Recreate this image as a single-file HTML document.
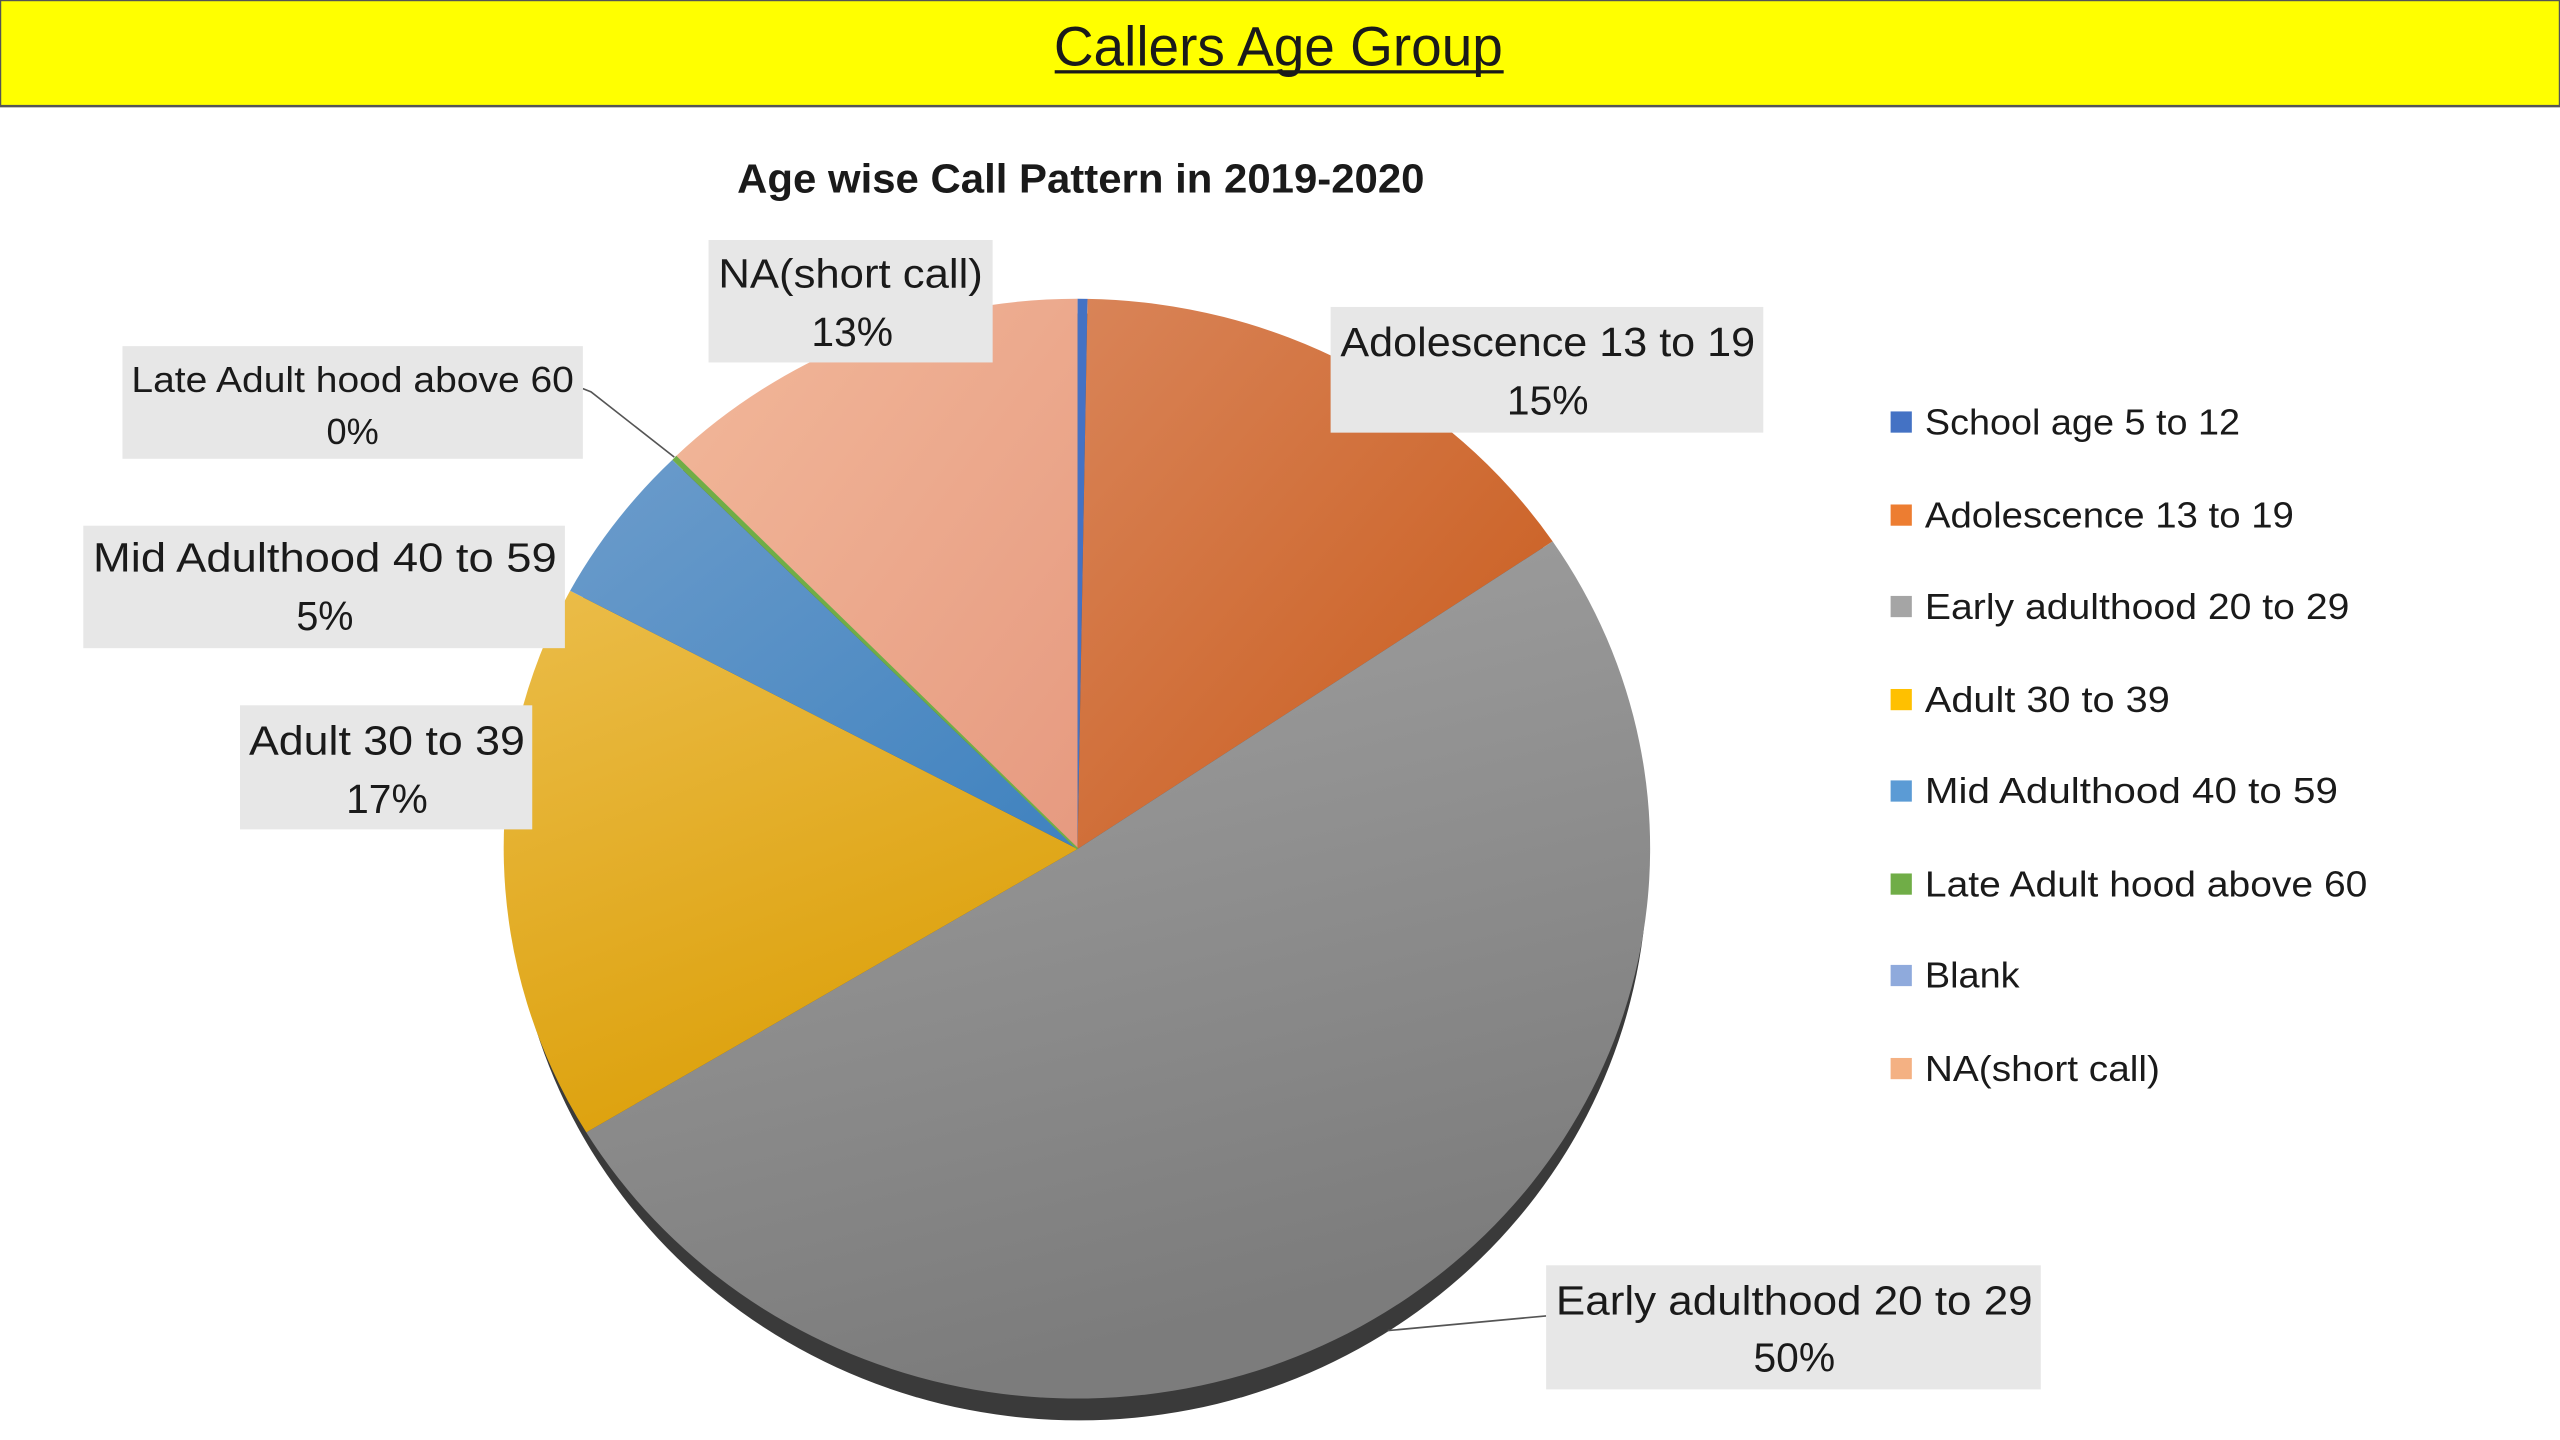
<!DOCTYPE html>
<html><head><meta charset="utf-8"><style>
html,body{margin:0;padding:0;background:#fff;}
svg{display:block;}
text{font-family:"Liberation Sans",sans-serif;fill:#1a1a1a;}
</style></head><body>
<svg width="2560" height="1440" viewBox="0 0 1568 882" xmlns="http://www.w3.org/2000/svg">
<defs>
<linearGradient id="gO" x1="0" y1="0" x2="1" y2="1"><stop offset="0" stop-color="#d98458"/><stop offset="1" stop-color="#c85a1a"/></linearGradient>
<linearGradient id="gG" x1="0" y1="0" x2="0.3" y2="1"><stop offset="0" stop-color="#a3a3a3"/><stop offset="1" stop-color="#7c7c7c"/></linearGradient>
<linearGradient id="gY" x1="0" y1="0" x2="0.4" y2="1"><stop offset="0" stop-color="#ebbd4a"/><stop offset="1" stop-color="#dca00a"/></linearGradient>
<linearGradient id="gB" x1="0" y1="0" x2="1" y2="1"><stop offset="0" stop-color="#6c9ccb"/><stop offset="1" stop-color="#3f82bf"/></linearGradient>
<linearGradient id="gP" x1="0" y1="0" x2="1" y2="1"><stop offset="0" stop-color="#f2b89a"/><stop offset="1" stop-color="#e69a80"/></linearGradient>
</defs>
<rect x="0" y="0" width="1568" height="65" fill="#ffff00"/>
<rect x="0" y="0" width="1568" height="65" fill="none" stroke="#555" stroke-width="1.5"/>
<text x="783" y="40" font-size="34" text-anchor="middle" textLength="275" lengthAdjust="spacingAndGlyphs">Callers Age Group</text>
<rect x="646" y="43" width="275" height="2" fill="#1a1a1a"/>
<text x="662" y="118" font-size="25" font-weight="bold" text-anchor="middle" textLength="421" lengthAdjust="spacingAndGlyphs">Age wise Call Pattern in 2019-2020</text>

<ellipse cx="661" cy="531" rx="348" ry="339" fill="#3a3a3a"/>
<path d="M660,520 L660,183 A351,337 0 0 1 666.1,183.05 Z" fill="#4472c4"/>
<path d="M660,520 L666.1,183.05 A351,337 0 0 1 951,331.6 Z" fill="url(#gO)"/>
<path d="M660,520 L951,331.6 A351,337 0 1 1 359.1,693.6 Z" fill="url(#gG)"/>
<path d="M660,520 L359.1,693.6 A351,337 0 0 1 349.2,361.8 Z" fill="url(#gY)"/>
<path d="M660,520 L349.2,361.8 A351,337 0 0 1 411.8,281.7 Z" fill="url(#gB)"/>
<path d="M660,520 L411.8,281.7 A351,337 0 0 1 413.8,279.6 Z" fill="#70ad47"/>
<path d="M660,520 L413.8,279.6 A351,337 0 0 1 660,183 Z" fill="url(#gP)"/>
<line x1="660" y1="520" x2="413.8" y2="279.6" stroke="#70ad47" stroke-width="1.2"/>

<polyline points="357,238 362,240 413,280" fill="none" stroke="#555" stroke-width="1"/>
<line x1="947" y1="806" x2="850" y2="815" stroke="#555" stroke-width="1"/>

<g font-size="25" text-anchor="middle">
<rect x="434" y="147" width="174" height="75" fill="#e7e7e7"/>
<text x="521" y="176" textLength="162" lengthAdjust="spacingAndGlyphs">NA(short call)</text>
<text x="522" y="212" textLength="50" lengthAdjust="spacingAndGlyphs">13%</text>

<rect x="815" y="188" width="265" height="77" fill="#e7e7e7"/>
<text x="948" y="218" textLength="254" lengthAdjust="spacingAndGlyphs">Adolescence 13 to 19</text>
<text x="948" y="254" textLength="50" lengthAdjust="spacingAndGlyphs">15%</text>

<rect x="75" y="212" width="282" height="69" fill="#e7e7e7"/>
<text x="216" y="240" font-size="22" textLength="271" lengthAdjust="spacingAndGlyphs">Late Adult hood above 60</text>
<text x="216" y="272" font-size="22" textLength="32" lengthAdjust="spacingAndGlyphs">0%</text>

<rect x="51" y="322" width="295" height="75" fill="#e7e7e7"/>
<text x="199" y="350" textLength="284" lengthAdjust="spacingAndGlyphs">Mid Adulthood 40 to 59</text>
<text x="199" y="386" textLength="35" lengthAdjust="spacingAndGlyphs">5%</text>

<rect x="147" y="432" width="179" height="76" fill="#e7e7e7"/>
<text x="237" y="462" textLength="169" lengthAdjust="spacingAndGlyphs">Adult 30 to 39</text>
<text x="237" y="498" textLength="50" lengthAdjust="spacingAndGlyphs">17%</text>

<rect x="947" y="775" width="303" height="76" fill="#e7e7e7"/>
<text x="1099" y="805" textLength="292" lengthAdjust="spacingAndGlyphs">Early adulthood 20 to 29</text>
<text x="1099" y="840" textLength="50" lengthAdjust="spacingAndGlyphs">50%</text>
</g>

<g font-size="22">
<rect x="1158" y="252" width="13" height="13" fill="#4472c4"/><text x="1179" y="266" textLength="193" lengthAdjust="spacingAndGlyphs">School age 5 to 12</text>
<rect x="1158" y="309" width="13" height="13" fill="#ed7d31"/><text x="1179" y="323" textLength="226" lengthAdjust="spacingAndGlyphs">Adolescence 13 to 19</text>
<rect x="1158" y="365" width="13" height="13" fill="#a5a5a5"/><text x="1179" y="379" textLength="260" lengthAdjust="spacingAndGlyphs">Early adulthood 20 to 29</text>
<rect x="1158" y="422" width="13" height="13" fill="#ffc000"/><text x="1179" y="436" textLength="150" lengthAdjust="spacingAndGlyphs">Adult 30 to 39</text>
<rect x="1158" y="478" width="13" height="13" fill="#5b9bd5"/><text x="1179" y="492" textLength="253" lengthAdjust="spacingAndGlyphs">Mid Adulthood 40 to 59</text>
<rect x="1158" y="535" width="13" height="13" fill="#70ad47"/><text x="1179" y="549" textLength="271" lengthAdjust="spacingAndGlyphs">Late Adult hood above 60</text>
<rect x="1158" y="591" width="13" height="13" fill="#8faadc"/><text x="1179" y="605" textLength="58" lengthAdjust="spacingAndGlyphs">Blank</text>
<rect x="1158" y="648" width="13" height="13" fill="#f4b183"/><text x="1179" y="662" textLength="144" lengthAdjust="spacingAndGlyphs">NA(short call)</text>
</g>
</svg>
</body></html>
